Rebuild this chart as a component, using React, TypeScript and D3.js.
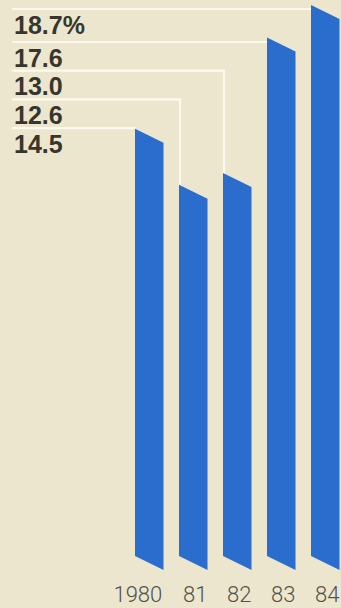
import React from "react";
import * as d3 from "d3";

const years = ["1980", "81", "82", "83", "84"];
const values = [14.5, 12.6, 13.0, 17.6, 18.7];
const valueLabels = ["14.5", "12.6", "13.0", "17.6", "18.7%"];

const W = 341;
const H = 608;
const BG = "#ece6cf";
const BLUE = "#2b6dcc";
const TEXT = "#37362c";
const AXIS_TEXT = "#535247";
const LINE = "#fbf9ee";

export default function App() {
  const baseY = 556;
  const slant = 14;
  const y = d3.scaleLinear().domain([0, 18.7]).range([baseY, 5]);
  const x = d3
    .scalePoint<string>()
    .domain(years)
    .range([135, 135 + 44 * (years.length - 1)]);
  const bw = 28.5;
  const left = (i: number) => x(years[i]) as number;

  // label rows: ordered by year descending, top to bottom
  const order = d3.range(years.length).reverse();
  const rowY = (r: number) => (r === 0 ? 9 : 42 + (r - 1) * 28.7);

  return (
    <svg
      width={W}
      height={H}
      style={{ position: "fixed", left: 0, top: 0, background: BG }}
    >
      <rect x={0} y={0} width={W} height={H} fill={BG} />
      {order.map((i, r) => {
        const ly = rowY(r);
        const bx = left(i) + 1;
        const top = y(values[i]);
        const d =
          top > ly + 2
            ? `M12,${ly}H${bx}V${top + 2}`
            : `M12,${ly}H${bx}`;
        return (
          <path
            key={"l" + i}
            d={d}
            fill="none"
            stroke={LINE}
            strokeWidth={2.2}
          />
        );
      })}
      {values.map((v, i) => {
        const L = left(i);
        const R = L + bw;
        const t = y(v);
        const pts = [
          [L, t],
          [R, t + slant],
          [R, baseY + slant],
          [L, baseY],
        ];
        return (
          <path
            key={"b" + i}
            d={(d3.line()(pts as [number, number][]) || "") + "Z"}
            fill={BLUE}
          />
        );
      })}
      {order.map((i, r) => (
        <text
          key={"t" + i}
          x={14}
          y={rowY(r) + 24.5}
          fontFamily="'Liberation Sans', Arial, sans-serif"
          fontWeight={700}
          fontSize={25}
          fill={TEXT}
        >
          {valueLabels[i]}
        </text>
      ))}
      {years.map((yr, i) => {
        const cx = left(i) + bw / 2 + 2;
        const first = i === 0;
        return (
          <text
            key={"y" + i}
            x={first ? cx + 11 : cx}
            y={602}
            textAnchor={first ? "end" : "middle"}
            fontFamily="Roboto, 'Liberation Sans', sans-serif"
            fontWeight={300}
            fontSize={22}
            fill={AXIS_TEXT}
          >
            {yr}
          </text>
        );
      })}
    </svg>
  );
}
